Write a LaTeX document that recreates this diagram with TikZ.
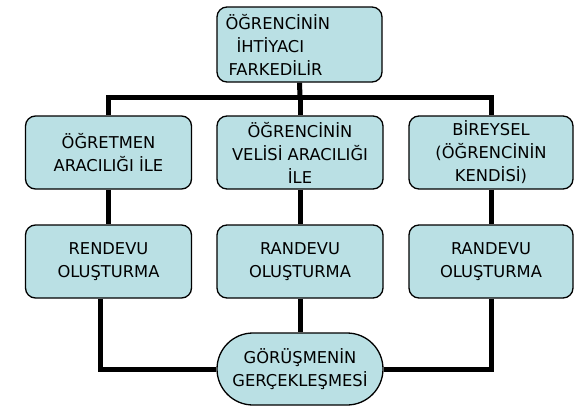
\documentclass[tikz,border=0pt]{standalone}
\usepackage{fontspec}
\setmainfont{DejaVu Sans}
\usetikzlibrary{backgrounds}
\definecolor{boxfill}{HTML}{BAE0E4}
\tikzset{
  box/.style={draw=black, line width=1.3pt, fill=boxfill, rounded corners=10pt,
    minimum width=166pt, minimum height=73pt, align=center, inner sep=2pt,
    font=\fontsize{16.3}{23}\selectfont},
  pill/.style={box, rounded corners=36pt, minimum height=72pt},
  conn/.style={draw=black, line width=5pt}
}
\begin{document}
\begin{tikzpicture}[x=1pt,y=-1pt]
\useasboundingbox (0,0) rectangle (582,407);
\node[box, minimum width=165pt, minimum height=75pt, text width=148pt, align=left] (top) at (299.5,44.5)
  {ÖĞRENCİNİN\\\hspace*{11pt}İHTİYACI\\\hspace*{3pt}FARKEDİLİR};
\node[box] (l2) at (108.5,152.5) {ÖĞRETMEN\\ARACILIĞI İLE};
\node[box] (m2) at (300,152.5) {ÖĞRENCİNİN\\VELİSİ ARACILIĞI\\İLE};
\node[box, minimum width=164pt] (r2) at (491,152.5) {BİREYSEL\\(ÖĞRENCİNİN\\KENDİSİ)};
\node[box] (l3) at (108.5,261.5) {RENDEVU\\OLUŞTURMA};
\node[box] (m3) at (300,261.5) {RANDEVU\\OLUŞTURMA};
\node[box, minimum width=164pt] (r3) at (491,261.5) {RANDEVU\\OLUŞTURMA};
\node[pill] (pill) at (300,369) {GÖRÜŞMENİN\\GERÇEKLEŞMESİ};
\coordinate (hb) at (300,97);
\begin{scope}[on background layer]
\draw[conn] (top.south) -- (hb);
\draw[conn] (l2.north) |- (hb) -| (r2.north);
\draw[conn] (hb) -- (m2.north);
\draw[conn] (l2.south) -- (l3.north);
\draw[conn] (m2.south) -- (m3.north);
\draw[conn] (r2.south) -- (r3.north);
\draw[conn] ([xshift=-8pt]l3.south) |- (pill.west);
\draw[conn] (m3.south) -- (pill.north);
\draw[conn] (r3.south) |- (pill.east);
\end{scope}
\end{tikzpicture}
\end{document}
